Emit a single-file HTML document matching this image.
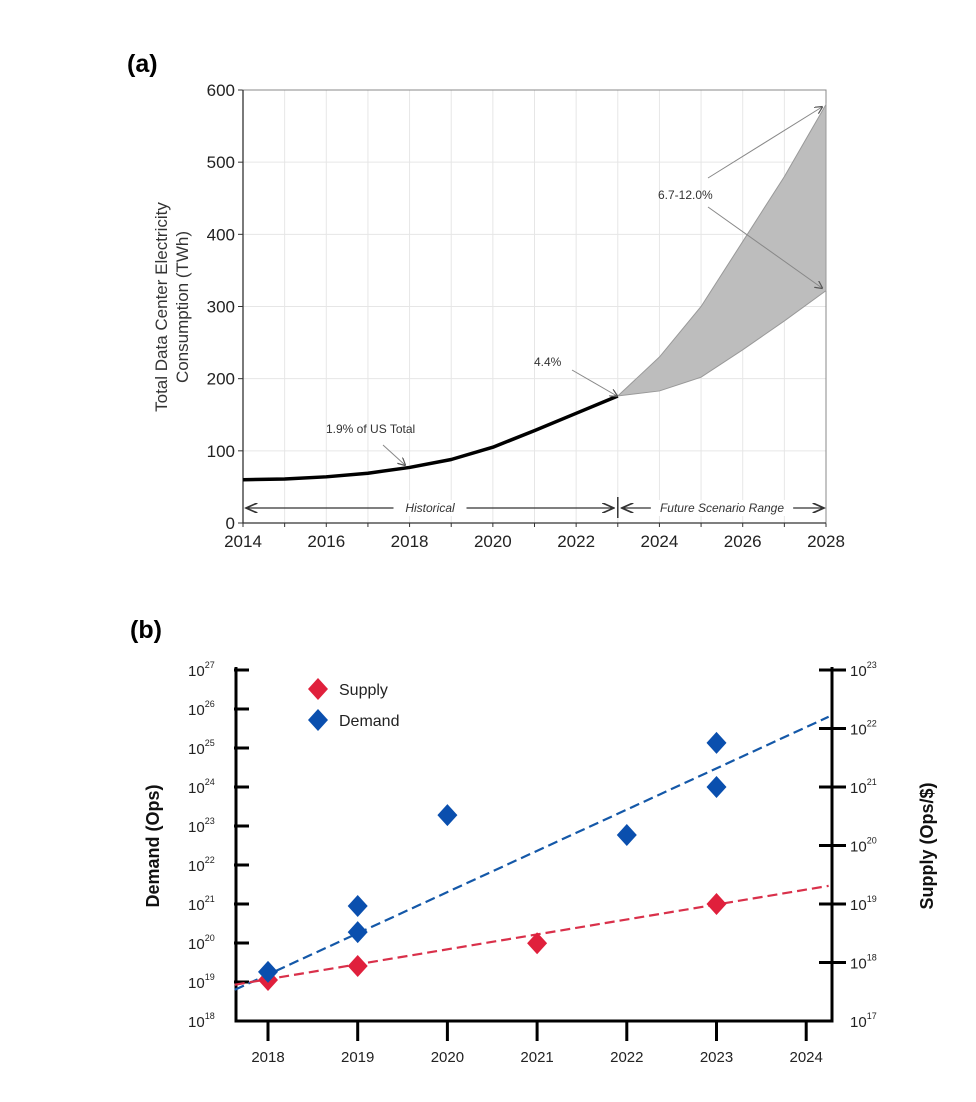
<!DOCTYPE html>
<html><head><meta charset="utf-8">
<style>
body{margin:0;background:#fff;width:976px;height:1102px;overflow:hidden;font-family:"Liberation Sans",sans-serif}
svg{position:absolute;left:0;top:0}
</style></head>
<body>
<svg width="976" height="1102">
<defs>
<marker id="ah" markerWidth="8" markerHeight="8" refX="7" refY="4" orient="auto"><path d="M0,0 L8,4 L0,8" fill="none" stroke="#555" stroke-width="1.2"/></marker>
<marker id="ahk" markerWidth="10" markerHeight="8" refX="9" refY="4" orient="auto"><path d="M0,0 L9,4 L0,8" fill="none" stroke="#333" stroke-width="1.3"/></marker>
</defs>
<text x="127" y="72" font-size="25" font-weight="bold">(a)</text>
<text x="130" y="638" font-size="25" font-weight="bold">(b)</text>
<g id="chartA"></g>
<g id="chartB"></g>
</svg>
<script>
const NS='http://www.w3.org/2000/svg';
function mk(p,t,a,txt){const e=document.createElementNS(NS,t);for(const k in a)e.setAttribute(k,a[k]);if(txt!=null)e.textContent=txt;p.appendChild(e);return e;}

// ---- chart A data
const histYears=[2014,2015,2016,2017,2018,2019,2020,2021,2022,2023];
const histValues=[60,61,64,69,77,88,105,128,152,176];
const futYears=[2023,2024,2025,2026,2027,2028];
const futUpper=[176,230,300,390,480,580];
const futLower=[176,183,202,240,280,322];
const aXTicks=[2014,2016,2018,2020,2022,2024,2026,2028];
const aYTicks=[0,100,200,300,400,500,600];

// ---- chart B data
const bYears=[2018,2019,2020,2021,2022,2023,2024];
const supplyYears=[2018,2019,2021,2023];
const supplyLog=[17.7,17.94,18.33,19.0];
const demandYears=[2018,2019,2019,2020,2022,2023,2023];
const demandLog=[19.26,20.95,20.28,23.28,22.77,25.13,24.0];
const demandFitYears=[2017.63,2024.25];
const demandFitLog=[18.8,25.8];
const supplyFitYears=[2017.63,2024.25];
const supplyFitLog=[17.62,19.31];
const leftExp=[18,19,20,21,22,23,24,25,26,27];
const rightExp=[17,18,19,20,21,22,23];

(function(){
const g=document.getElementById('chartA');
const X0=243,X1=826,Y0=523,Y1=90;
const x=v=>X0+(v-2014)/(14)*(X1-X0);
const y=v=>Y0-(v/600)*(Y0-Y1);
for(let yr=2014;yr<=2028;yr++){const l=mk(g,'line',{x1:x(yr),x2:x(yr),y1:Y1,y2:Y0,stroke:'#e6e6e6','stroke-width':1});
 const t=mk(g,'line',{x1:x(yr),x2:x(yr),y1:Y0,y2:Y0+4,stroke:'#333'});}
aYTicks.forEach(v=>{const l=mk(g,'line',{x1:X0,x2:X1,y1:y(v),y2:y(v),stroke:'#e6e6e6'});
 const tk=mk(g,'line',{x1:X0-5,x2:X0,y1:y(v),y2:y(v),stroke:'#333'});
 const t=mk(g,'text',{x:X0-8,y:y(v)+6,'font-size':17,'text-anchor':'end',fill:'#222'},v);});
aXTicks.forEach(v=>{const t=mk(g,'text',{x:x(v),y:Y0+24,'font-size':17,'text-anchor':'middle',fill:'#222'},v);});
const fr=mk(g,'rect',{x:X0,y:Y1,width:X1-X0,height:Y0-Y1,fill:'none',stroke:'#888','stroke-width':1});
const ax=mk(g,'path',{d:`M${X0},${Y1}V${Y0}H${X1}`,fill:'none',stroke:'#333','stroke-width':1.3});
// band
let d='M'+futYears.map((yr,i)=>x(yr)+','+y(futUpper[i])).join('L');
for(let i=futYears.length-1;i>=0;i--)d+='L'+x(futYears[i])+','+y(futLower[i]);
const band=mk(g,'path',{d:d+'Z',fill:'#bdbdbd',stroke:'#999','stroke-width':1});
const hl=mk(g,'polyline',{points:histYears.map((yr,i)=>x(yr)+','+y(histValues[i])).join(' '),fill:'none',stroke:'#000','stroke-width':3.5,'stroke-linejoin':'round'});
// annotations
const an=[[383,445,405,465,'1.9% of US Total',326,433,'annotation-us-total'],[572,370,617,396,'4.4%',534,366,'annotation-4-4'],[708,178,822,107,'6.7-12.0%',658,199,'annotation-range']];
an.forEach(a=>{const l=mk(g,'line',{x1:a[0],y1:a[1],x2:a[2],y2:a[3],stroke:'#888','stroke-width':1,'marker-end':'url(#ah)'});
 const t=mk(g,'text',{x:a[5],y:a[6],'font-size':12,fill:'#333'},a[4]);});
const l2=mk(g,'line',{x1:708,y1:207,x2:822,y2:288,stroke:'#888','stroke-width':1,'marker-end':'url(#ah)'});
// period arrows
const pa=[[X0+3,x(2023)-4,'Historical',430],[x(2023)+4,X1-2,'Future Scenario Range',722]];
pa.forEach(p=>{const ln=mk(g,'line',{x1:(p[0]+p[1])/2,x2:p[0],y1:508,y2:508,stroke:'#333','stroke-width':1.3,'marker-end':'url(#ahk)'});
 const ln2=mk(g,'line',{x1:(p[0]+p[1])/2,x2:p[1],y1:508,y2:508,stroke:'#333','stroke-width':1.3,'marker-end':'url(#ahk)'});
 const w=p[2].length*6.3+10;const bg=mk(g,'rect',{x:p[3]-w/2,y:500,width:w,height:16,fill:'#fff'});
 const t=mk(g,'text',{x:p[3],y:512,'font-size':12,'font-style':'italic','text-anchor':'middle',fill:'#333'},p[2]);});
const sep=mk(g,'line',{x1:x(2023),x2:x(2023),y1:497,y2:518,stroke:'#333','stroke-width':1.5});
const yl=mk(g,'text',{transform:'translate(167,307) rotate(-90)','font-size':17,'text-anchor':'middle',fill:'#333'},'Total Data Center Electricity');
const yl2=mk(g,'text',{transform:'translate(188,307) rotate(-90)','font-size':17,'text-anchor':'middle',fill:'#333'},'Consumption (TWh)');
})();

(function(){
const g=document.getElementById('chartB');
const XL=236,XR=832,YB=1021,YT=670;
const x=yr=>268+(yr-2018)*89.7;
const yL=e=>YB-(e-18)*(YB-YT)/9;
const yR=e=>YB-(e-17)*(YB-YT)/6;
const ax=mk(g,'path',{d:`M${XL},${YT-3}V${YB}H${XR}V${YT-3}`,fill:'none',stroke:'#000','stroke-width':3});
leftExp.forEach(e=>{if(e>18){const t=mk(g,'line',{x1:XL-2,x2:XL+13,y1:yL(e),y2:yL(e),stroke:'#000','stroke-width':3});}
 const tx=mk(g,'text',{x:188,y:yL(e)+6,'font-size':15,fill:'#222'},'10');
 mk(tx,'tspan',{dy:-8,'font-size':9},e);});
rightExp.forEach(e=>{if(e>17){const t=mk(g,'line',{x1:XR-13,x2:XR+14,y1:yR(e),y2:yR(e),stroke:'#000','stroke-width':3});}
 const tx=mk(g,'text',{x:850,y:yR(e)+6,'font-size':15,fill:'#222'},'10');
 mk(tx,'tspan',{dy:-8,'font-size':9},e);});
bYears.forEach(yr=>{const t=mk(g,'line',{x1:x(yr),x2:x(yr),y1:YB,y2:YB+20,stroke:'#000','stroke-width':3});
 const l=mk(g,'text',{x:x(yr),y:YB+41,'font-size':15,'text-anchor':'middle',fill:'#222'},yr);});
const df=mk(g,'line',{x1:x(demandFitYears[0]),y1:yL(demandFitLog[0]),x2:x(demandFitYears[1]),y2:yL(demandFitLog[1]),stroke:'#1458a8','stroke-width':2.2,'stroke-dasharray':'10,5'});
const sf=mk(g,'line',{x1:x(supplyFitYears[0]),y1:yR(supplyFitLog[0]),x2:x(supplyFitYears[1]),y2:yR(supplyFitLog[1]),stroke:'#d9304a','stroke-width':2.2,'stroke-dasharray':'10,5'});
const dia=(cx,cy,c)=>mk(g,'path',{d:`M${cx},${cy-11}L${cx+10},${cy}L${cx},${cy+11}L${cx-10},${cy}Z`,fill:c});
supplyYears.forEach((yr,i)=>{const p=dia(x(yr),yR(supplyLog[i]),'#e0203c');});
demandYears.forEach((yr,i)=>{const p=dia(x(yr),yL(demandLog[i]),'#0a4fae');});
const l1=dia(318,689,'#e0203c');
const l2=dia(318,720,'#0a4fae');
const t1=mk(g,'text',{x:339,y:695,'font-size':16,fill:'#222'},'Supply');
const t2=mk(g,'text',{x:339,y:726,'font-size':16,fill:'#222'},'Demand');
const yl=mk(g,'text',{transform:'translate(159,846) rotate(-90)','font-size':18,'font-weight':'bold','text-anchor':'middle',fill:'#111'},'Demand (Ops)');
const yr=mk(g,'text',{transform:'translate(933,846) rotate(-90)','font-size':18,'font-weight':'bold','text-anchor':'middle',fill:'#111'},'Supply (Ops/$)');
})();
</script>
</body></html>
